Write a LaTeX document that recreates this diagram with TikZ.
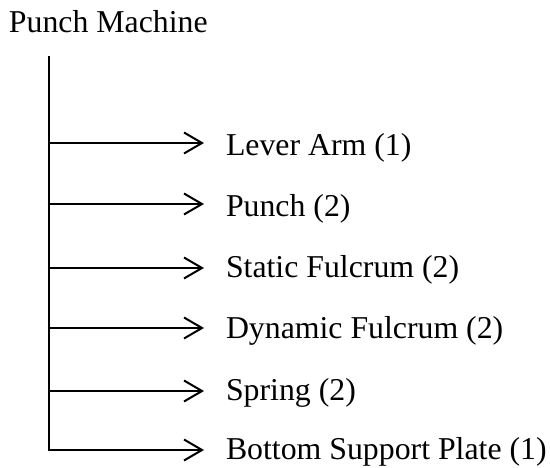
\documentclass[tikz,border=0pt]{standalone}
\usepackage{fontspec}
\setmainfont{Liberation Serif}
\usetikzlibrary{arrows.meta}
\begin{document}
\begin{tikzpicture}[x=1pt,y=-1pt,
  txt/.style={anchor=base west,inner sep=0pt,outer sep=0pt,font=\fontsize{31.8}{38}\selectfont},
  spine/.style={line width=2pt},
  branch/.style={line width=2pt,-{Straight Barb[length=18pt,width=21pt,line width=2pt]}}]
  \useasboundingbox (0,0) rectangle (550,468);
  % heading
  \node[txt] (title) at (9,33) {Punch Machine};
  % component labels
  \node[txt] (c1) at (226,156) {Lever Arm (1)};
  \node[txt] (c2) at (226,217) {Punch (2)};
  \node[txt] (c3) at (226,278) {Static Fulcrum (2)};
  \node[txt] (c4) at (226,339) {Dynamic Fulcrum (2)};
  \node[txt] (c5) at (226,401) {Spring (2)};
  \node[txt] (c6) at (226,460) {Bottom Support Plate (1)};
  % branch points on the spine and arrow ends
  \coordinate (top) at (48.5,56);
  \foreach \i/\y in {1/143,2/204,3/268,4/328,5/391,6/450}{
    \coordinate (s\i) at (48.5,\y);
    \coordinate (e\i) at (204,\y);
  }
  \draw[spine] (top) -- ([yshift=1pt]s6);
  \foreach \i in {1,...,6}{
    \draw[branch] ([xshift=-1pt]s\i) -- (e\i);
  }
\end{tikzpicture}
\end{document}
